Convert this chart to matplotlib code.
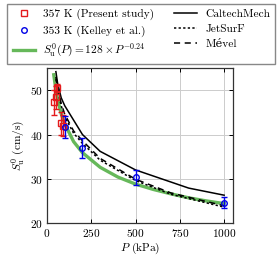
import numpy as np
import matplotlib
matplotlib.use('Agg')
import matplotlib.pyplot as plt
from matplotlib.lines import Line2D

plt.rcParams['font.family'] = ['cmr10', 'DejaVu Serif']
plt.rcParams['mathtext.fontset'] = 'cm'
plt.rcParams['axes.formatter.use_mathtext'] = True
plt.rcParams['font.size'] = 8.2

# 357 K, present study
p_exp = [40, 48, 57, 78, 90]
s_exp = [47.3, 48.4, 50.5, 42.5, 42.0]
e_exp = [2.8, 2.6, 1.0, 2.6, 2.4]

# 353 K, Kelley et al.
p_kel = [100, 200, 500, 1000]
s_kel = [41.7, 36.9, 30.4, 24.6]
e_kel = [2.4, 2.3, 1.7, 1.3]

# fit S = 128 P^-0.24
p_fit = [38, 50, 60, 80, 100, 150, 200, 300, 400, 500, 600, 700, 800, 900, 1000]
s_fit = [53.5, 50.1, 47.9, 44.7, 42.4, 38.4, 35.9, 32.6, 30.4, 28.8, 27.6, 26.6, 25.7, 25.0, 24.4]

# mechanisms
p_cal = [50, 60, 80, 100, 200, 300, 500, 800, 1000]
s_cal = [54.2, 51.5, 48.3, 46.5, 40.0, 36.2, 32.0, 27.9, 26.3]
p_jet = [50, 60, 80, 100, 150, 200, 300, 500, 700, 1000]
s_jet = [52.5, 50.0, 46.5, 44.0, 40.3, 38.0, 34.2, 29.6, 26.5, 23.6]
p_mev = [50, 60, 80, 100, 150, 200, 300, 500, 700, 1000]
s_mev = [53.0, 50.5, 47.0, 44.6, 40.8, 38.6, 34.6, 29.9, 26.8, 23.9]

red = '#e41a1c'
blue = '#0000e6'
green = '#66b85a'

fig = plt.figure(figsize=(2.8, 2.6), dpi=100)
ax = fig.add_axes([0.168, 0.142, 0.664, 0.596])

ax.plot(p_fit, s_fit, color=green, lw=2.4, zorder=2)
ax.plot(p_cal, s_cal, color='black', lw=1.1, ls='-', zorder=3)
ax.plot(p_jet, s_jet, color='black', lw=1.1, ls=(0, (1.5, 1.5)), zorder=3)
ax.plot(p_mev, s_mev, color='black', lw=1.1, ls=(0, (4, 3)), zorder=3)

ax.errorbar(p_exp, s_exp, yerr=e_exp, fmt='s', ms=4, mfc='none', mec=red, mew=1.0,
            ecolor=red, elinewidth=1.0, capsize=2.5, capthick=1.0, zorder=4)
ax.errorbar(p_kel, s_kel, yerr=e_kel, fmt='o', ms=4, mfc='none', mec=blue, mew=1.0,
            ecolor=blue, elinewidth=1.0, capsize=2.5, capthick=1.0, zorder=4)

ax.set_xlim(0, 1050)
ax.set_ylim(20, 55)
ax.set_xticks([0, 250, 500, 750, 1000])
ax.set_yticks([20, 30, 40, 50])
ax.grid(True, color='#cccccc', lw=0.7)
ax.set_axisbelow(True)
ax.tick_params(direction='in', top=True, right=True, length=3, width=0.7, pad=3)
for s in ax.spines.values():
    s.set_color('#333333')
    s.set_linewidth(0.9)

ax.set_xlabel('$P$ (kPa)', labelpad=1)
ax.set_ylabel('$S_\\mathrm{u}^0$ (cm/s)', labelpad=2)

handles = [
    Line2D([], [], ls='none', marker='s', ms=4, mfc='none', mec=red, mew=1.0),
    Line2D([], [], ls='none', marker='o', ms=4, mfc='none', mec=blue, mew=1.0),
    Line2D([], [], color=green, lw=2.4),
    Line2D([], [], color='black', lw=1.1, ls='-'),
    Line2D([], [], color='black', lw=1.1, ls=(0, (1.5, 1.5))),
    Line2D([], [], color='black', lw=1.1, ls=(0, (4, 3))),
]
labels = [
    '357 K (Present study)',
    '353 K (Kelley et al.)',
    '$S_\\mathrm{u}^0(P) = 128 \\times P^{-0.24}$',
    'CaltechMech',
    'JetSurF',
    'Mével',
]
leg = fig.legend(handles, labels, ncol=2, loc='upper center', bbox_to_anchor=(0.505, 0.985),
                 fancybox=False, edgecolor='#888888', framealpha=1, handlelength=2.0,
                 columnspacing=1.75, handletextpad=0.7, labelspacing=0.45, borderpad=0.45,
                 borderaxespad=0)
leg.get_frame().set_linewidth(1.0)

fig.savefig('out.png', dpi=100)
